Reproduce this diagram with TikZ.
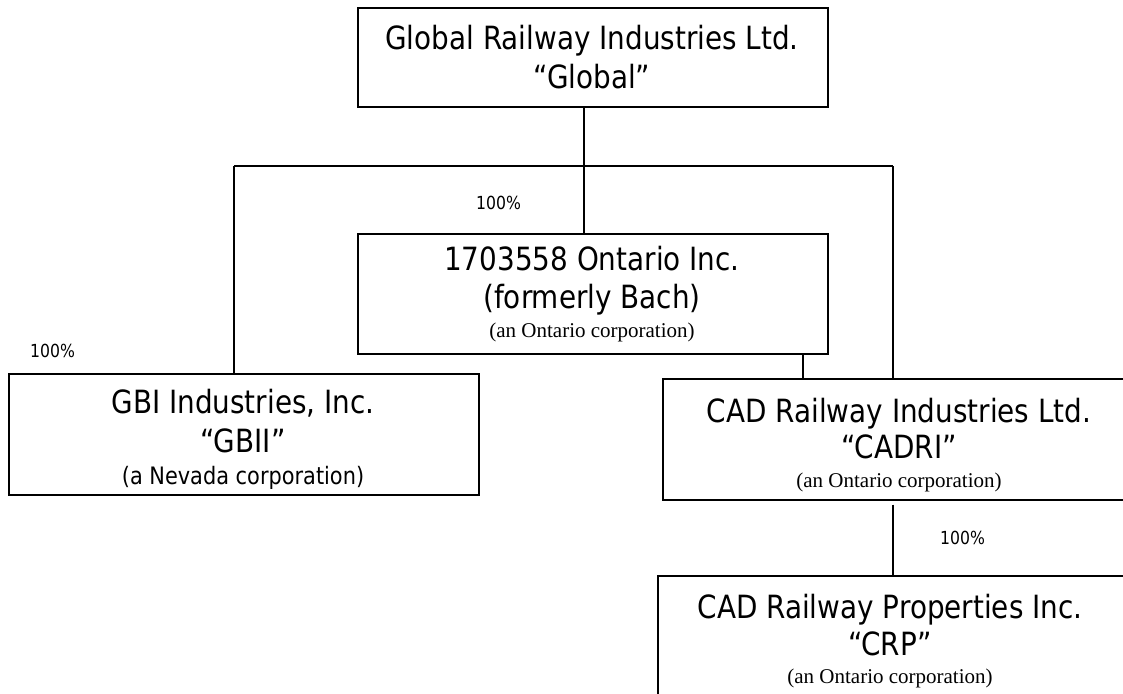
\documentclass[tikz,border=0pt]{standalone}
\usepackage{fontspec}
\setmainfont{DejaVu Sans}[FakeStretch=0.87]
\newfontfamily\tnr{Liberation Serif}
\begin{document}
\begin{tikzpicture}[x=1pt,y=-1pt,
  orgbox/.style={draw, line width=1.6pt, inner sep=0pt, anchor=north west},
  big/.style={font=\fontsize{32}{38}\selectfont, anchor=base, inner sep=0pt},
  mid/.style={font=\fontsize{24}{28}\selectfont, anchor=base, inner sep=0pt},
  serif/.style={font=\tnr\fontsize{21}{24}\selectfont, anchor=base, inner sep=0pt},
  pct/.style={font=\fontsize{18}{20}\selectfont, anchor=base west, inner sep=0pt},
  link/.style={line width=1.6pt}]
\useasboundingbox (0,0) rectangle (1123,693);
\fill[white] (0,0) rectangle (1123,693);
\clip (0,0) rectangle (1123,693);

% boxes
\node[orgbox, minimum width=470pt, minimum height=99pt] (top) at (357,7) {};
\node[orgbox, minimum width=470pt, minimum height=120pt] (ont) at (357,233) {};
\node[orgbox, minimum width=470pt, minimum height=121pt] (gbi) at (8,373) {};
\node[orgbox, minimum width=474pt, minimum height=121pt] (cadri) at (662,378) {};
\node[orgbox, minimum width=470pt, minimum height=130pt] (crp) at (657,575) {};

% texts
\node[big] (top1) at (592,50) {Global Railway Industries Ltd.};
\node[big] (top2) at (592,88) {“Global”};

\node[big] (ont1) at (592,270) {1703558 Ontario Inc.};
\node[big] (ont2) at (592,308) {(formerly Bach)};
\node[serif] (ont3) at (592,337) {(an Ontario corporation)};

\node[big] (gbi1) at (243,413) {GBI Industries, Inc.};
\node[big] (gbi2) at (243,452) {“GBII”};
\node[mid] (gbi3) at (243,484) {(a Nevada corporation)};

\node[big] (cad1) at (899,422) {CAD Railway Industries Ltd.};
\node[big] (cad2) at (899,458) {“CADRI”};
\node[serif] (cad3) at (899,487) {(an Ontario corporation)};

\node[big] (crp1) at (890,618) {CAD Railway Properties Inc.};
\node[big] (crp2) at (890,655) {“CRP”};
\node[serif] (crp3) at (890,683) {(an Ontario corporation)};

% percentages
\node[pct] (p1) at (476,209) {100\%};
\node[pct] (p2) at (30,357) {100\%};
\node[pct] (p3) at (940,544) {100\%};

% connectors
\coordinate (hub) at (584,166);
\coordinate (jl) at (234,166);
\coordinate (jr) at (893,166);
\coordinate (k) at (803,360);
\coordinate (cb) at ([yshift=-4pt]cadri.south);

\draw[link] (top.south -| hub) -- (ont.north -| hub);
\draw[link] (jl) -- (jr);
\draw[link] (jl) -- (gbi.north -| jl);
\draw[link] (jr) -- (cadri.north -| jr);
\draw[link] (ont.south -| k) -- (cadri.north -| k);
\draw[link] (cb -| jr) -- (crp.north -| jr);
\end{tikzpicture}
\end{document}
